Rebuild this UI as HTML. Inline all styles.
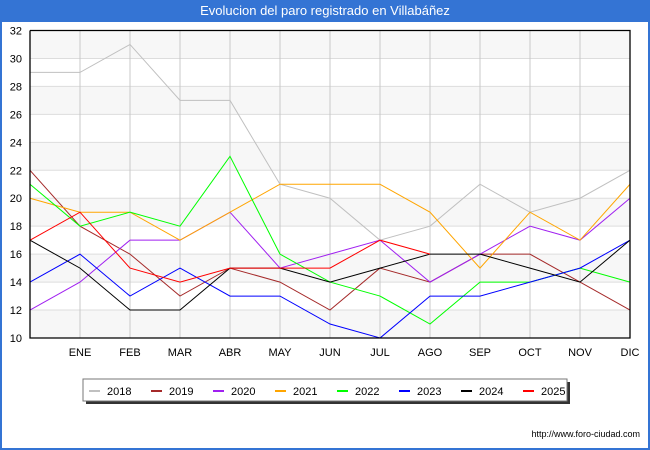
<!DOCTYPE html>
<html><head><meta charset="utf-8"><style>
body{margin:0;background:#fff;font-family:"Liberation Sans","DejaVu Sans",sans-serif}
#wrap{position:relative;width:650px;height:450px;box-sizing:border-box;border:2px solid #3474d4;border-top:none;background:#fff}
#title{position:absolute;left:0;top:0;width:646px;height:22px;background:#3474d4;color:#fff;font-size:13px;line-height:22px;text-align:center}
svg{position:absolute;left:-2px;top:0}
</style></head><body>
<div id="wrap">
<div id="title">Evolucion del paro registrado en Villabáñez</div>
<svg id="chart" width="650" height="450"></svg>
</div>
<script>
const months=["","ENE","FEB","MAR","ABR","MAY","JUN","JUL","AGO","SEP","OCT","NOV","DIC"];
const yTicks=[10,12,14,16,18,20,22,24,26,28,30,32];
const years=["2018","2019","2020","2021","2022","2023","2024","2025"];
const colors=["#c0c0c0","#a52a2a","#a020f0","#ffa500","#00ff00","#0000ff","#000000","#ff0000"];
const s2018=[29,29,31,27,27,21,20,17,18,21,19,20,22];
const s2019=[22,18,16,13,15,14,12,15,14,16,16,14,12];
const s2020=[12,14,17,17,19,15,16,17,14,16,18,17,20];
const s2021=[20,19,19,17,19,21,21,21,19,15,19,17,21];
const s2022=[21,18,19,18,23,16,14,13,11,14,14,15,14];
const s2023=[14,16,13,15,13,13,11,10,13,13,14,15,17];
const s2024=[17,15,12,12,15,15,14,15,16,16,15,14,17];
const s2025=[17,19,15,14,15,15,15,17,16];
const series=[s2018,s2019,s2020,s2021,s2022,s2023,s2024,s2025];
const NS="http://www.w3.org/2000/svg",svg=document.getElementById("chart");
const X0=30,X1=630,Y0=338,Y1=30.5,ymin=10,ymax=32;
const xs=i=>X0+i*(X1-X0)/(months.length-1);
const ys=v=>Y0-(v-ymin)*(Y0-Y1)/(ymax-ymin);
function mk(t,a){const e=document.createElementNS(NS,t);for(const k in a)e.setAttribute(k,a[k]);svg.appendChild(e);return e;}
for(let i=0;i<yTicks.length-1;i++){
 if(i%2===0){const r=mk("rect",{x:X0,y:ys(yTicks[i+1]),width:X1-X0,height:ys(yTicks[i])-ys(yTicks[i+1]),fill:"#f7f7f7"});
 
 }
}
yTicks.forEach(v=>{
 const l=mk("line",{x1:X0,x2:X1,y1:ys(v),y2:ys(v),stroke:"#dddddd","stroke-width":1});
 
 
 const t=mk("text",{x:X0-8,y:ys(v)+4,"text-anchor":"end","font-size":11,fill:"#000"});t.textContent=v;
 
 
});
months.forEach((m,i)=>{
 if(i>0){const l=mk("line",{x1:xs(i),x2:xs(i),y1:Y1,y2:Y0,stroke:"#c8c8c8","stroke-width":1});
 
 }
 const t=mk("text",{x:xs(i),y:356,"text-anchor":"middle","font-size":11,fill:"#000"});t.textContent=m;
 
 
});
series.forEach((s,k)=>{
 const p=mk("polyline",{points:s.map((v,i)=>xs(i)+","+ys(v)).join(" "),fill:"none",stroke:colors[k],"stroke-width":1});
 
 
});
const ax=mk("path",{d:`M${X0},${Y1}V${Y0}H${X1}V${Y1}H${X0}`,fill:"none",stroke:"#000","stroke-width":1.3});


const sh=mk("rect",{x:86,y:382,width:484,height:22,fill:"#333"});


const lb=mk("rect",{x:83,y:379,width:484,height:22,fill:"#fff",stroke:"#777","stroke-width":1});


years.forEach((y,k)=>{
 const lx=89+k*62;
 const l=mk("line",{x1:lx,x2:lx+11,y1:391,y2:391,stroke:colors[k],"stroke-width":2});
 
 
 const t=mk("text",{x:lx+18,y:395,"font-size":11,fill:"#000"});t.textContent=y;
 
 
});
const u=mk("text",{x:640,y:437,"text-anchor":"end","font-size":9,fill:"#000"});u.textContent="http://www.foro-ciudad.com";


</script>
</body></html>
